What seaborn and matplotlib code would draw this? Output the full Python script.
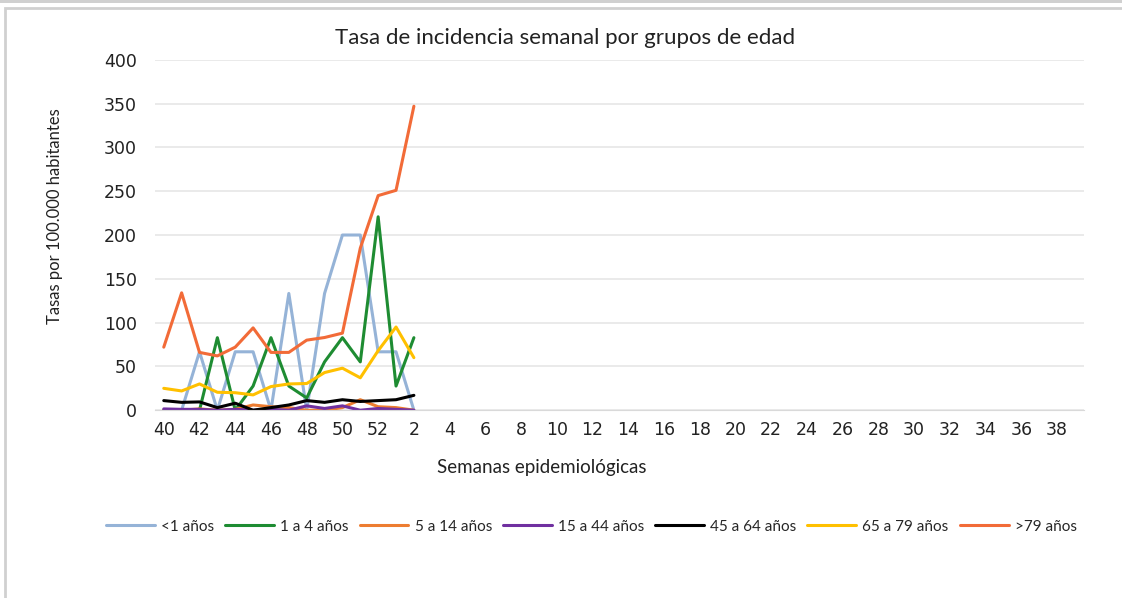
import numpy as np
import pandas as pd
import matplotlib.pyplot as plt
import seaborn as sns
from matplotlib.patches import Rectangle

# epidemiological weeks 40..52 then 1..39
weeks = list(range(40, 53)) + list(range(1, 40))

groups = ['<1 años', '1 a 4 años', '5 a 14 años', '15 a 44 años',
          '45 a 64 años', '65 a 79 años', '>79 años']

# values for weeks 40..52, 1, 2 (rest still empty)
menor_1 = [0, 0, 66.7, 0, 66.7, 66.7, 0, 133.3, 0, 133.3, 200, 200, 66.7, 66.7, 0]
de_1_a_4 = [0, 0, 0, 82.8, 0, 27.6, 82.8, 27.6, 14, 55.2, 82.8, 55.2, 220.8, 27.6, 82.8]
de_5_a_14 = [0, 0, 1.5, 0, 1, 6, 4, 3, 0, 0, 3, 12, 4, 3, 0]
de_15_a_44 = [1.5, 1, 1, 0, 1, 0, 1, 0, 5, 2, 5, 0, 2, 1, 0]
de_45_a_64 = [11, 9, 9.5, 3, 8, 0, 3, 6, 11, 9, 12, 10, 11, 12, 17]
de_65_a_79 = [25, 22, 30, 20.5, 20, 17.5, 27, 30, 30.5, 43, 48, 37, 68, 95, 60]
mayor_79 = [72, 134, 66, 62, 72, 94, 66, 66, 80, 83, 88, 185, 245, 251, 347]

palette = {
    '<1 años': '#95B3D7',
    '1 a 4 años': '#1E8C32',
    '5 a 14 años': '#ED7D31',
    '15 a 44 años': '#7030A0',
    '45 a 64 años': '#000000',
    '65 a 79 años': '#FFC000',
    '>79 años': '#F26B38',
}

series = [menor_1, de_1_a_4, de_5_a_14, de_15_a_44, de_45_a_64, de_65_a_79, mayor_79]
rows = []
for g, vals in zip(groups, series):
    for i, v in enumerate(vals):
        rows.append({'pos': i, 'semana': weeks[i], 'grupo': g, 'tasa': v})
df = pd.DataFrame(rows)

sns.set_style('white')
plt.rcParams['font.family'] = ['Lato', 'DejaVu Sans']

fig = plt.figure(figsize=(11.22, 5.98), dpi=100)
ax = fig.add_axes([0.138, 0.314, 0.828, 0.586])

sns.lineplot(data=df, x='pos', y='tasa', hue='grupo', hue_order=groups,
             palette=palette, linewidth=2.2, ax=ax, legend=True)

ax.set_xlim(-0.5, len(weeks) - 0.5)
ax.set_ylim(0, 400)
ax.set_yticks(range(0, 401, 50))
ax.set_xticks(range(0, len(weeks), 2))
ax.set_xticklabels([str(w) for w in weeks[::2]], fontsize=12.5, family='DejaVu Sans')
ax.set_yticklabels([str(v) for v in range(0, 401, 50)], fontsize=12.5, family='DejaVu Sans')
ax.set_xticks(np.arange(-0.5, len(weeks), 1), minor=True)
ax.tick_params(axis='x', which='major', length=0, pad=8, colors='#222222')
ax.tick_params(axis='x', which='minor', length=5, color='#d9d9d9', direction='out')
ax.tick_params(axis='y', length=0, pad=13, colors='#222222')
ax.yaxis.grid(True, color='#e6e6e6', linewidth=1.2)
ax.set_axisbelow(True)
for s in ['top', 'right', 'left']:
    ax.spines[s].set_visible(False)
ax.spines['bottom'].set_color('#d9d9d9')
ax.set_xlabel('')
ax.set_ylabel('')

fig.text(0.504, 0.936, 'Tasa de incidencia semanal por grupos de edad',
         fontsize=16, ha='center', va='center', color='#222222')
fig.text(0.483, 0.219, 'Semanas epidemiológicas', fontsize=13.5,
         ha='center', va='center', color='#222222')
fig.text(0.049, 0.639, 'Tasas por 100.000 habitantes', fontsize=12,
         rotation=90, ha='center', va='center', color='#222222')

handles, labels = ax.get_legend_handles_labels()
ax.legend_.remove()
fig.legend(handles, labels, loc='center', bbox_to_anchor=(0.527, 0.119), ncol=7,
           frameon=False, fontsize=11, handlelength=3.2, handletextpad=0.4,
           columnspacing=0.72)

# chart frame like the spreadsheet export
fig.patches.append(Rectangle((5 / 1122, -0.01), 1.02, (598 - 8) / 598 + 0.01,
                             transform=fig.transFigure, fill=False,
                             edgecolor='#d0d0d0', linewidth=2))
fig.patches.append(Rectangle((0, 1 - 3 / 598), 1, 3 / 598, transform=fig.transFigure,
                             facecolor='#d0d0d0', edgecolor='none'))

fig.savefig('out.png', dpi=100)
